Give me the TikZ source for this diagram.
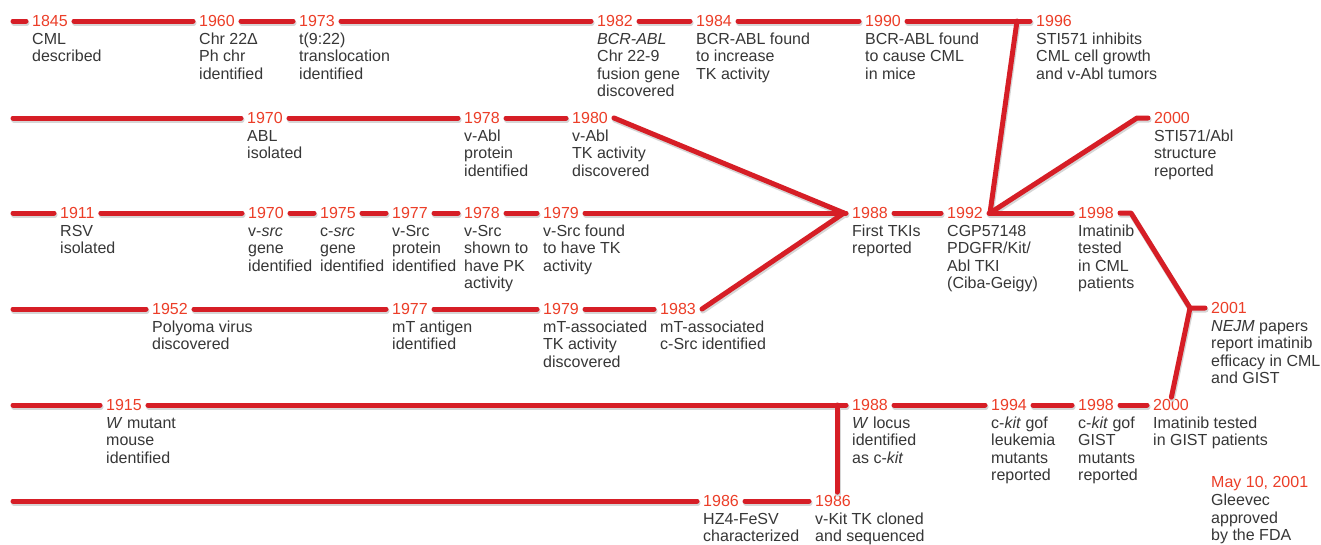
\documentclass[tikz,border=0pt]{standalone}
\usepackage{fontspec}
\setmainfont{Liberation Sans}
\usetikzlibrary{calc}
\definecolor{tlred}{RGB}{214,30,38}
\definecolor{yrred}{RGB}{236,62,40}
\definecolor{txtgray}{RGB}{55,55,55}
\newcommand\tlevent[5]{%
 \node[yr] (#1) at ({#2-7},#3) {#4};
 \node[desc] (#1d) at ($(#1.base west)+(6,18)$) {\begin{tabular}[t]{@{}l@{}}#5\end{tabular}};}
\newcommand\tllinks[1]{%
 % row 1
 \draw[#1] (s1) -- (a1845.west);
 \draw[#1] (a1845.east) -- (a1960.west);
 \draw[#1] (a1960.east) -- (a1973.west);
 \draw[#1] (a1973.east) -- (a1982.west);
 \draw[#1] (a1982.east) -- (a1984.west);
 \draw[#1] (a1984.east) -- (a1990.west);
 \draw[#1] (a1990.east) -- (a1996.west);
 \draw[#1] (k96) -- (j92);
 % row 2
 \draw[#1] (s2) -- (b1970.west);
 \draw[#1] (b1970.east) -- (b1978.west);
 \draw[#1] (b1978.east) -- (b1980.west);
 \draw[#1] (b1980.east) -- (j88);
 \draw[#1] (j92) -- (k00) -- (b2000.west);
 % row 3
 \draw[#1] (s3) -- (c1911.west);
 \draw[#1] (c1911.east) -- (c1970.west);
 \draw[#1] (c1970.east) -- (c1975.west);
 \draw[#1] (c1975.east) -- (c1977.west);
 \draw[#1] (c1977.east) -- (c1978.west);
 \draw[#1] (c1978.east) -- (c1979.west);
 \draw[#1] (c1979.east) -- (j88) -- (c1988.west);
 \draw[#1] (c1988.east) -- (c1992.west);
 \draw[#1] (c1992.east) -- (c1998.west);
 \draw[#1] (c1998.east) -- (k98) -- (k01) -- (c2001.west);
 \draw[#1, shorten >=2pt] (k01) -- (e2000.north);
 % row 4
 \draw[#1] (s4) -- (d1952.west);
 \draw[#1] (d1952.east) -- (d1977.west);
 \draw[#1] (d1977.east) -- (d1979.west);
 \draw[#1] (d1979.east) -- (d1983.west);
 \draw[#1] (d1983.east) -- (j88);
 % row 5
 \draw[#1] (s5) -- (e1915.west);
 \draw[#1] (e1915.east) -- (e1988.west);
 \draw[#1] (e1988.east) -- (e1994.west);
 \draw[#1] (e1994.east) -- (e1998.west);
 \draw[#1] (e1998.east) -- (e2000.west);
 \draw[#1, shorten >=3pt] (k88) -- (k88 |- f1986b.north);
 % row 6
 \draw[#1] (s6) -- (f1986a.west);
 \draw[#1] (f1986a.east) -- (f1986b.west);
}
\begin{document}
\begin{tikzpicture}[x=1pt,y=-1pt,
 yr/.style={anchor=west, inner xsep=6pt, inner ysep=0pt, text=yrred, font=\fontsize{16}{17.3}\selectfont},
 desc/.style={anchor=base west, inner sep=0pt, text=txtgray, font=\fontsize{16}{17.3}\selectfont},
 tl/.style={draw=tlred, line width=5pt, line cap=round, line join=round},
 tlshadow/.style={draw=black!16, line width=5.5pt, line cap=round, line join=round, transform canvas={shift={(0.8pt,-1.8pt)}}}]
\fill[white] (0,0) rectangle (1321,544);
\useasboundingbox (0,0) rectangle (1321,544);
% row 1
\tlevent{a1845}{33}{21}{1845}{CML\\described}
\tlevent{a1960}{200}{21}{1960}{Chr 22Δ\\Ph chr\\identified}
\tlevent{a1973}{300}{21}{1973}{t(9:22)\\translocation\\identified}
\tlevent{a1982}{598}{21}{1982}{\textit{BCR-ABL}\\Chr 22-9\\fusion gene\\discovered}
\tlevent{a1984}{697}{21}{1984}{BCR-ABL found\\to increase\\TK activity}
\tlevent{a1990}{866}{21}{1990}{BCR-ABL found\\to cause CML\\in mice}
\tlevent{a1996}{1037}{21}{1996}{STI571 inhibits\\CML cell growth\\and v-Abl tumors}
% row 2
\tlevent{b1970}{248}{118}{1970}{ABL\\isolated}
\tlevent{b1978}{465}{118}{1978}{v-Abl\\protein\\identified}
\tlevent{b1980}{573}{118}{1980}{v-Abl\\TK activity\\discovered}
\tlevent{b2000}{1155}{118}{2000}{STI571/Abl\\structure\\reported}
% row 3
\tlevent{c1911}{61}{213}{1911}{RSV\\isolated}
\tlevent{c1970}{249}{213}{1970}{v-\textit{src}\\gene\\identified}
\tlevent{c1975}{321}{213}{1975}{c-\textit{src}\\gene\\identified}
\tlevent{c1977}{393}{213}{1977}{v-Src\\protein\\identified}
\tlevent{c1978}{465}{213}{1978}{v-Src\\shown to\\have PK\\activity}
\tlevent{c1979}{544}{213}{1979}{v-Src found\\to have TK\\activity}
\tlevent{c1988}{853}{213}{1988}{First TKIs\\reported}
\tlevent{c1992}{948}{213}{1992}{CGP57148\\PDGFR/Kit/\\Abl TKI\\(Ciba-Geigy)}
\tlevent{c1998}{1079}{213}{1998}{Imatinib\\tested\\in CML\\patients}
\tlevent{c2001}{1212}{308}{2001}{\textit{NEJM} papers\\report imatinib\\efficacy in CML\\and GIST}
% row 4
\tlevent{d1952}{153}{309}{1952}{Polyoma virus\\discovered}
\tlevent{d1977}{393}{309}{1977}{mT antigen\\identified}
\tlevent{d1979}{544}{309}{1979}{mT-associated\\TK activity\\discovered}
\tlevent{d1983}{661}{309}{1983}{mT-associated\\c-Src identified}
% row 5
\tlevent{e1915}{107}{405}{1915}{\textit{W} mutant\\mouse\\identified}
\tlevent{e1988}{853}{405}{1988}{\textit{W} locus\\identified\\as c-\textit{kit}}
\tlevent{e1994}{992}{405}{1994}{c-\textit{kit} gof\\leukemia\\mutants\\reported}
\tlevent{e1998}{1079}{405}{1998}{c-\textit{kit} gof\\GIST\\mutants\\reported}
\tlevent{e2000}{1154}{405}{2000}{Imatinib tested\\in GIST patients}
\tlevent{g2001}{1212}{484}{May 10, 2001}{Gleevec\\approved\\by the FDA}
% row 6
\tlevent{f1986a}{704}{501}{1986}{HZ4-FeSV\\characterized}
\tlevent{f1986b}{816}{501}{1986}{v-Kit TK cloned\\and sequenced}
% free ends and bends
\coordinate (s1) at (13,21);
\coordinate (s2) at (13,118);
\coordinate (s3) at (13,213);
\coordinate (s4) at (13,309);
\coordinate (s5) at (13,405);
\coordinate (s6) at (13,501);
\coordinate (k96) at (1017,21);
\coordinate (j92) at ($(c1992.east)+(1,0)$);
\coordinate (j88) at ($(c1988.west)+(-2,0)$);
\coordinate (k00) at (1137,118);
\coordinate (k98) at (1131,213);
\coordinate (k01) at (1190,308);
\coordinate (k88) at (837,405);
\tllinks{tlshadow}
\tllinks{tl}
\end{tikzpicture}
\end{document}
